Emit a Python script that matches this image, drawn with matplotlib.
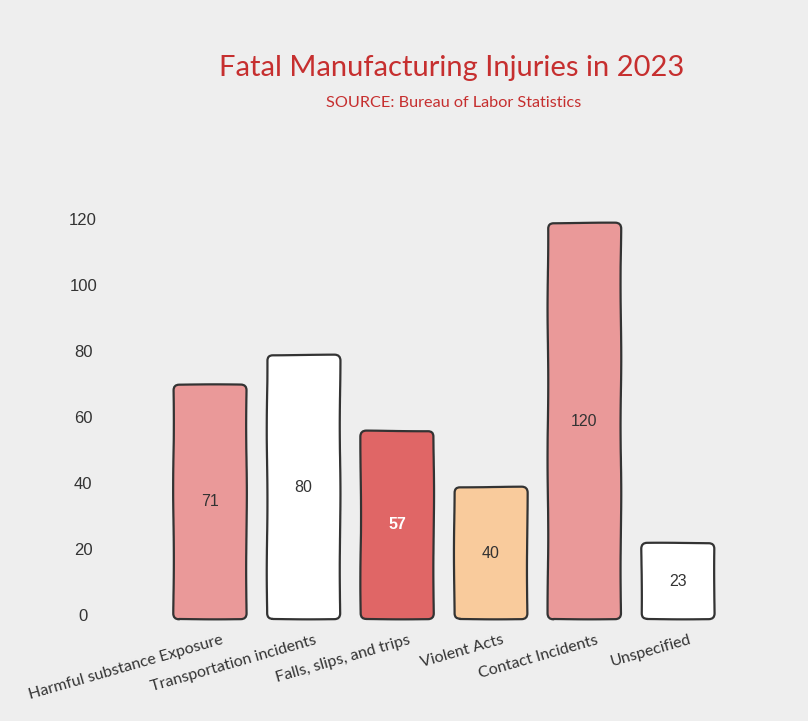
import matplotlib
matplotlib.use("Agg")
import matplotlib.pyplot as plt
from matplotlib.patches import FancyBboxPatch
from matplotlib.transforms import ScaledTranslation

categories = ["Harmful substance Exposure", "Transportation incidents",
              "Falls, slips, and trips", "Violent Acts", "Contact Incidents", "Unspecified"]
values = [71, 80, 57, 40, 120, 23]
colors = ["#ea9999", "#ffffff", "#e06666", "#f9cb9c", "#ea9999", "#ffffff"]
label_colors = ["#333333", "#333333", "#ffffff", "#333333", "#333333", "#333333"]
yticks = [0, 20, 40, 60, 80, 100, 120]

W, H = 808, 721
fig = plt.figure(figsize=(W / 100, H / 100), dpi=100)
fig.patch.set_facecolor("#eeeeee")

ax_l, ax_r, ax_t, ax_b = 150, 740, 200, 625
ax = fig.add_axes([ax_l / W, 1 - ax_b / H, (ax_r - ax_l) / W, (ax_b - ax_t) / H])
ax.set_facecolor("#eeeeee")

px_per_unit = 3.3
px_per_cat = 93.6
zero_px = 619
ax.set_ylim(-(ax_b - zero_px) / px_per_unit, (zero_px - ax_t) / px_per_unit)
ax.set_xlim(-(210 - ax_l) / px_per_cat, (ax_r - 210) / px_per_cat)

bars = ax.bar(range(len(values)), values, width=0.78, color="none", edgecolor="none")
aspect = (1 / px_per_unit) / (1 / px_per_cat)
for i, b in enumerate(bars):
    x0, y0, w, h = b.get_x(), b.get_y(), b.get_width(), b.get_height()
    p = FancyBboxPatch((x0, y0), w, h,
                       boxstyle="round,pad=0,rounding_size=0.06",
                       mutation_aspect=aspect,
                       facecolor=colors[i], edgecolor="#333333", linewidth=1.6,
                       joinstyle="round")
    p.set_sketch_params(scale=0.35, length=160, randomness=2)
    ax.add_patch(p)
    ax.text(x0 + w / 2, y0 + h / 2, str(values[i]), ha="center", va="center",
            fontsize=11.5, color=label_colors[i], family="Liberation Sans",
            fontweight="bold" if label_colors[i] == "#ffffff" else "normal")

for s in ax.spines.values():
    s.set_visible(False)
ax.tick_params(length=0)
ax.set_yticks(yticks)
ax.set_yticklabels([str(t) for t in yticks], fontsize=12, color="#333333",
                   family="Liberation Sans", ha="center")
off = ScaledTranslation(-62 / 100, 4 / 100, fig.dpi_scale_trans)
for lab in ax.get_yticklabels():
    lab.set_transform(lab.get_transform() + off)

ax.set_xticks(range(len(categories)))
ax.set_xticklabels(categories, rotation=16, ha="right", rotation_mode="anchor",
                   fontsize=11.5, color="#333333", family="Lato")
off2 = ScaledTranslation(11 / 100, -3 / 100, fig.dpi_scale_trans)
for lab in ax.get_xticklabels():
    lab.set_transform(lab.get_transform() + off2)

fig.text(452 / W, 1 - 68 / H, "Fatal Manufacturing Injuries in 2023", ha="center",
         va="center", fontsize=21, color="#c62f2f", family="Lato")
fig.text(454 / W, 1 - 103 / H, "SOURCE: Bureau of Labor Statistics", ha="center",
         va="center", fontsize=11.7, color="#c62f2f", family="Lato")

fig.savefig("out.png", dpi=100, facecolor=fig.get_facecolor())
